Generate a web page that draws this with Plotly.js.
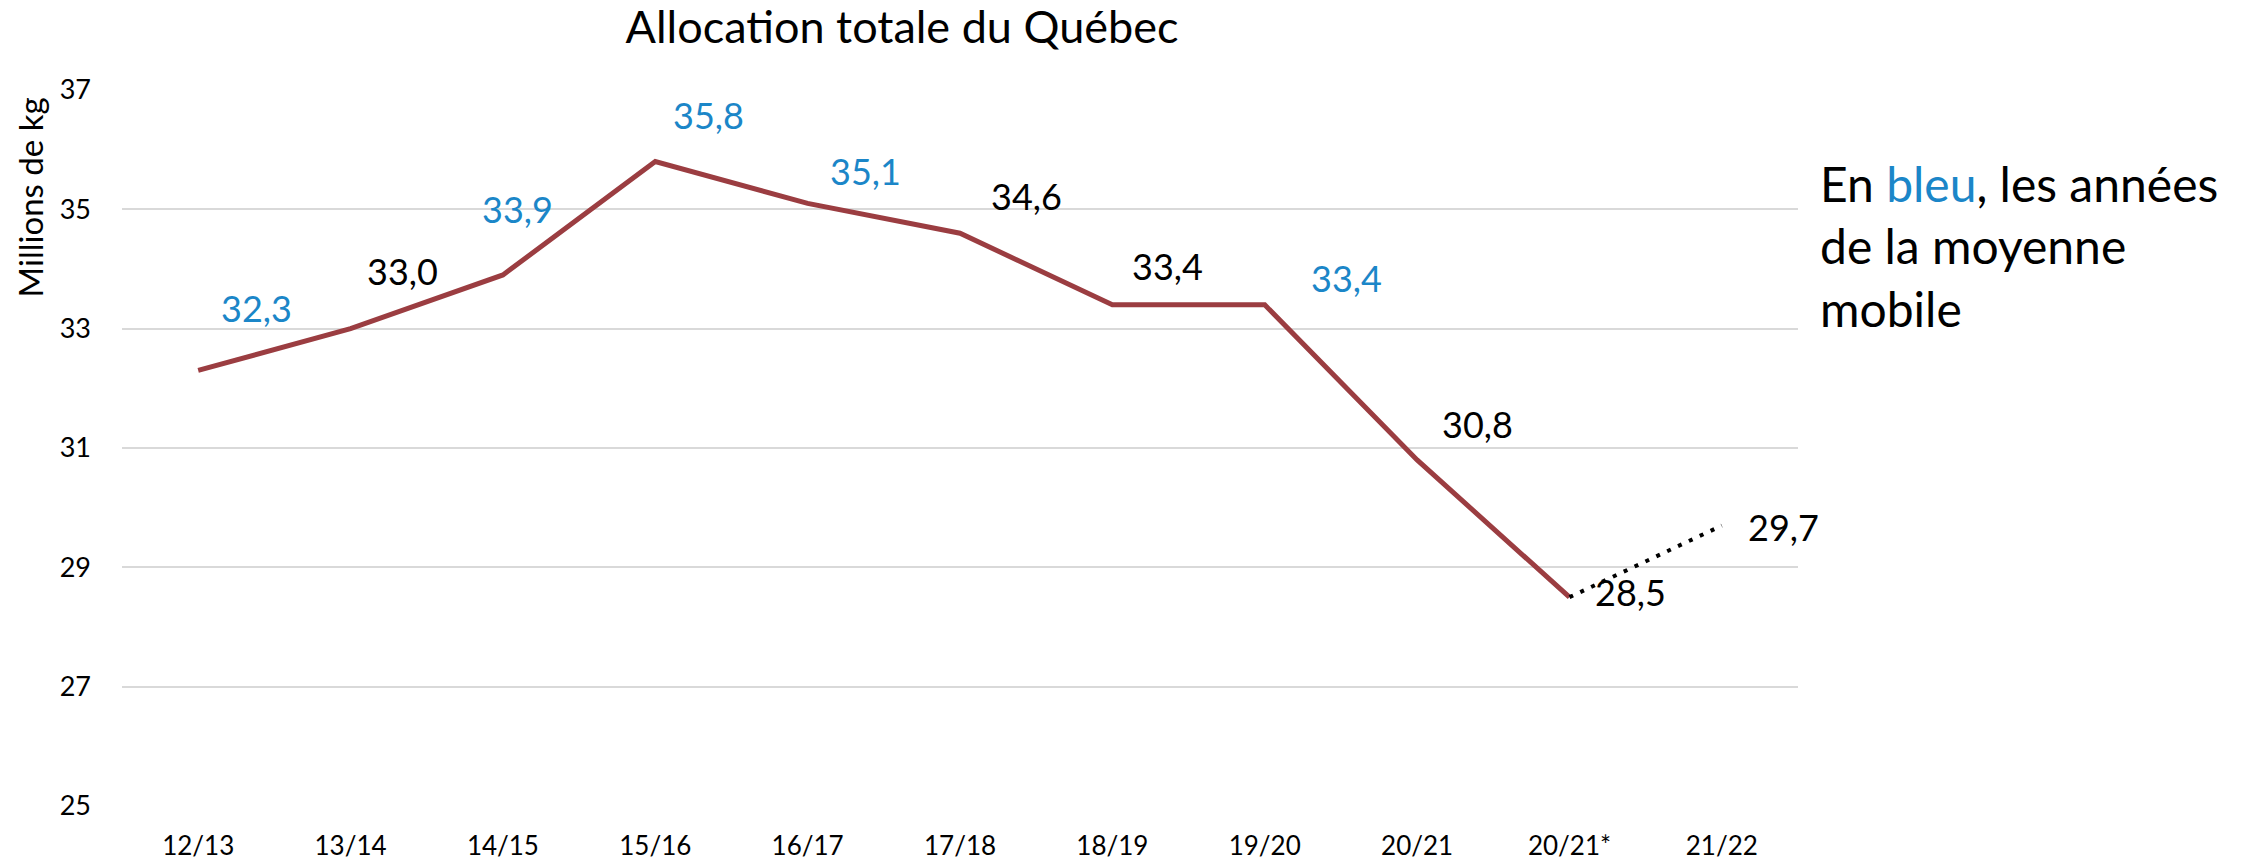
<!DOCTYPE html>
<html>
<head>
<meta charset="utf-8">
<script src="https://cdn.plot.ly/plotly-3.0.1.min.js"></script>
<style>
html,body{margin:0;padding:0;background:#fff;}
#chart{width:2246px;height:861px;}
</style>
</head>
<body>
<div id="chart"></div>
<script>
// ---- data ----
const categories = ["12/13","13/14","14/15","15/16","16/17","17/18","18/19","19/20","20/21","20/21*","21/22"];
const allocCategories = ["12/13","13/14","14/15","15/16","16/17","17/18","18/19","19/20","20/21","20/21*"];
const allocValues = [32.3, 33.0, 33.9, 35.8, 35.1, 34.6, 33.4, 33.4, 30.8, 28.5];
const projCategories = ["20/21*","21/22"];
const projValues = [28.5, 29.7];
const movingAvgYears = ["12/13","14/15","15/16","16/17","19/20"];
const yTickValues = [25, 27, 29, 31, 33, 35, 37];

// ---- label placement (style) ----
const labelShiftX = [58, 52, 15, 53, 58, 66, 55, 82, 60, 61, 62];
const labelShiftY = [62, 58, 66, 47, 32, 37, 39, 27, 36, 5, -1];

const FONT = "Lato, 'Open Sans', sans-serif";
const BLUE = "#1B86C8";
const fmt = v => v.toFixed(1).replace('.', ',');

const labelPoints = allocCategories.map((c, i) => ({c, v: allocValues[i]}))
  .concat([{c: projCategories[1], v: projValues[1]}]);

const annotations = labelPoints.map((p, i) => ({
  x: p.c, y: p.v, xref: 'x', yref: 'y',
  text: fmt(p.v), showarrow: false,
  xanchor: 'center', yanchor: 'middle',
  xshift: labelShiftX[i], yshift: labelShiftY[i],
  font: {family: FONT, size: 36, color: movingAvgYears.includes(p.c) ? BLUE : '#000'}
}));

annotations.push({
  xref: 'paper', yref: 'paper', x: -0.0549, y: 0.85,
  text: 'Millions de kg', textangle: -90, showarrow: false,
  xanchor: 'center', yanchor: 'middle',
  font: {family: FONT, size: 33, color: '#000'}
});

annotations.push({
  xref: 'paper', yref: 'paper', x: 1.0119, y: 0.782,
  text: "En <span style='color:" + BLUE + "'>bleu</span>, les années<br>de la moyenne<br>mobile",
  showarrow: false, align: 'left', xanchor: 'left', yanchor: 'middle',
  font: {family: FONT, size: 48, color: '#000'}
});

const traces = [
  {
    x: allocCategories, y: allocValues, type: 'scatter', mode: 'lines',
    line: {color: '#9B3D41', width: 5}, hoverinfo: 'skip', showlegend: false
  },
  {
    x: projCategories, y: projValues, type: 'scatter', mode: 'lines',
    line: {color: '#000', width: 4, dash: '4px,8px'}, hoverinfo: 'skip', showlegend: false
  }
];

const layout = {
  width: 2246, height: 861,
  margin: {l: 122, r: 448, t: 90, b: 55},
  paper_bgcolor: '#fff', plot_bgcolor: '#fff',
  font: {family: FONT, color: '#000'},
  title: {
    text: 'Allocation totale du Québec',
    x: 0.4654, xref: 'paper', xanchor: 'center',
    y: 0.968, yref: 'container', yanchor: 'middle',
    font: {family: FONT, size: 45, color: '#000'}
  },
  xaxis: {
    type: 'category', categoryorder: 'array', categoryarray: categories,
    range: [-0.5, 10.5], showgrid: false, zeroline: false, showline: false,
    ticks: '', ticklabelstandoff: 22,
    tickfont: {family: FONT, size: 26, color: '#000'}
  },
  yaxis: {
    range: [25, 37], tickvals: yTickValues, ticktext: yTickValues.map(String),
    showgrid: true, gridcolor: '#d9d9d9', gridwidth: 2,
    zeroline: false, showline: false, ticks: '', ticklabelstandoff: 30,
    tickfont: {family: FONT, size: 27, color: '#000'}
  },
  annotations: annotations
};

Plotly.newPlot('chart', traces, layout, {staticPlot: true, displayModeBar: false});
</script>
</body>
</html>
